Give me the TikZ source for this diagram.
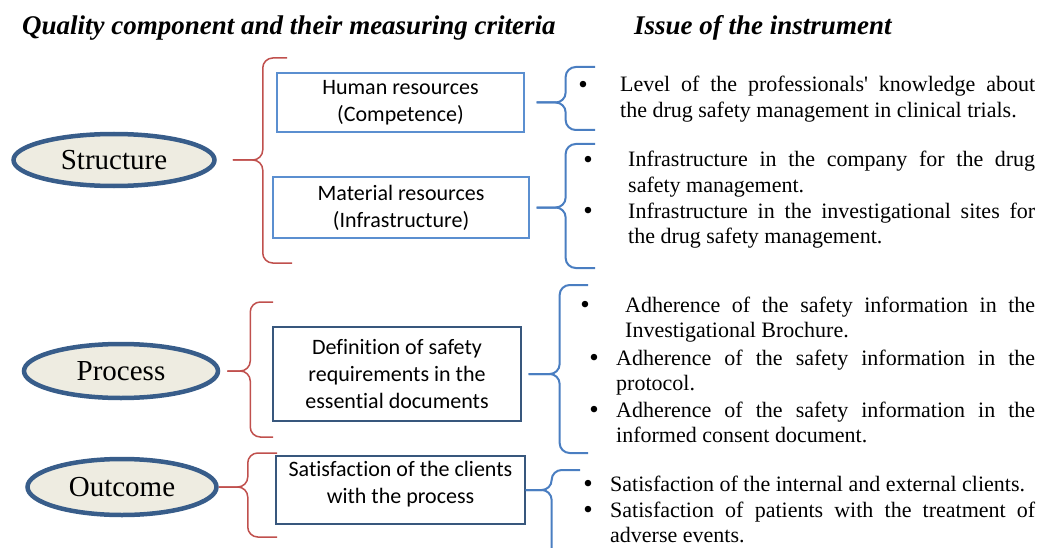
\documentclass[tikz,border=0pt]{standalone}
\usepackage{fontspec}
\setmainfont{Liberation Serif}
\newfontfamily\calibri[Ligatures=NoCommon]{Carlito}
\usetikzlibrary{shapes.geometric}
\definecolor{bracered}{RGB}{192, 80, 77}
\definecolor{braceblue}{RGB}{74, 126, 193}
\definecolor{ovalblue}{RGB}{56, 93, 138}
\definecolor{ovaltan}{RGB}{238, 236, 225}
\definecolor{boxlight}{RGB}{91, 143, 208}
\definecolor{boxdark}{RGB}{56, 87, 125}

\tikzset{
  quality/.style={ellipse, draw=ovalblue, fill=ovaltan, line width=4.5pt, inner sep=0pt,
                  font=\fontsize{29}{30}\selectfont},
  resource/.style={draw=#1, line width=1.3pt, align=center, inner sep=0pt,
                   font=\calibri\fontsize{22}{27}\selectfont},
  curlyred/.style={draw=bracered, line width=1.5pt, rounded corners=10pt},
  curlyblue/.style={draw=braceblue, line width=2pt, rounded corners=10pt},
  issue/.style={anchor=base west, inner sep=0pt, align=justify, text width=#1,
                font=\fontsize{22}{25.5}\selectfont},
  bulletmark/.style={anchor=base, inner sep=0pt, yshift=-1.5pt, font=\fontsize{27}{27}\selectfont},
  heading/.style={anchor=base west, inner sep=0pt, font=\fontsize{27}{30}\selectfont\bfseries\itshape}
}

% #1 style, #2 tip, #3 spine offset, #4 top end, #5 bottom end
\newcommand\curly[5]{%
  \draw[#1] (#4) -| ([xshift=#3]#2) -- (#2);
  \draw[#1] (#5) -| ([xshift=#3]#2) -- (#2);
}

\begin{document}
\begin{tikzpicture}[x=1pt, y=-1pt]
  \useasboundingbox (0,0) rectangle (1040,548);

  % headings
  \node[heading] (qhead) at (22,35)  {Quality component and their measuring criteria};
  \node[heading] (ihead) at (634,35) {Issue of the instrument};

  % quality components
  \node[quality, minimum width=201pt, minimum height=52pt] (struct) at (114,160) {Structure};
  \node[quality, minimum width=194pt, minimum height=54pt] (proc)   at (121,371) {Process};
  \node[quality, minimum width=189pt, minimum height=56pt] (outc)   at (122,487) {Outcome};

  % measuring criteria
  \node[resource=boxlight, minimum width=247pt, minimum height=59pt] (human)    at (400.5,102.5) {Human resources\\(Competence)};
  \node[resource=boxlight, minimum width=256pt, minimum height=61pt] (material) at (401,207.5)   {Material resources\\(Infrastructure)};
  \node[resource=boxdark,  minimum width=248pt, minimum height=94pt] (definit)  at (397,374)     {Definition of safety\\requirements in the\\essential documents};
  \node[resource=boxdark,  minimum width=249pt, minimum height=68pt,
        label={[align=center, font=\calibri\fontsize{22}{27}\selectfont, yshift=5.5pt]center:Satisfaction of the clients\\with the process}] (satisf) at (400.5,490) {};

  % brace tips
  \coordinate (s-tip) at ([xshift=16]struct.east);
  \coordinate (p-tip) at ([xshift=7]proc.east);
  \coordinate (o-tip) at ([xshift=0]outc.east);
  \coordinate (h-tip) at ([xshift=12]human.east);
  \coordinate (m-tip) at ([xshift=7]material.east);
  \coordinate (d-tip) at ([xshift=7]definit.east);
  \coordinate (c-tip) at ([xshift=0]satisf.east);

  % braces
  \curly{curlyred}{s-tip}{30}{287,58}{292,263}
  \curly{curlyred}{p-tip}{23}{273,302}{273,437}
  \curly{curlyred}{o-tip}{29}{277,453}{277,537}
  \curly{curlyblue}{h-tip}{29}{595,67}{595,130}
  \curly{curlyblue}{m-tip}{29}{595,144}{595,268}
  \curly{curlyblue}{d-tip}{31}{588,285}{588,453}
  \curly{curlyblue}{c-tip}{26}{580,470}{551,560}

  % issues of the instrument
  \node[bulletmark] (b1) at (583,92)  {\textbullet};
  \node[issue=415pt] (i1) at (620,92)  {Level of the professionals\textquotesingle{} knowledge about\linebreak the drug safety management in clinical trials.};
  \node[bulletmark] (b2) at (588,167) {\textbullet};
  \node[issue=407pt] (i2) at (628,167) {Infrastructure in the company for the drug\linebreak safety management.};
  \node[bulletmark] (b3) at (588,218) {\textbullet};
  \node[issue=407pt] (i3) at (628,218) {Infrastructure in the investigational sites for\linebreak the drug safety management.};
  \node[bulletmark] (b4) at (585,312) {\textbullet};
  \node[issue=410pt] (i4) at (625,312) {Adherence of the safety information in the\linebreak Investigational Brochure.};
  \node[bulletmark] (b5) at (594,365) {\textbullet};
  \node[issue=419pt] (i5) at (616,365) {Adherence of the safety information in the\linebreak protocol.};
  \node[bulletmark] (b6) at (594,417) {\textbullet};
  \node[issue=419pt] (i6) at (616,417) {Adherence of the safety information in the\linebreak informed consent document.};
  \node[bulletmark] (b7) at (588,491) {\textbullet};
  \node[issue=425pt] (i7) at (610,491) {Satisfaction of the internal and external clients.};
  \node[bulletmark] (b8) at (588,517) {\textbullet};
  \node[issue=425pt] (i8) at (610,517) {Satisfaction of patients with the treatment of\linebreak adverse events.};
\end{tikzpicture}
\end{document}
